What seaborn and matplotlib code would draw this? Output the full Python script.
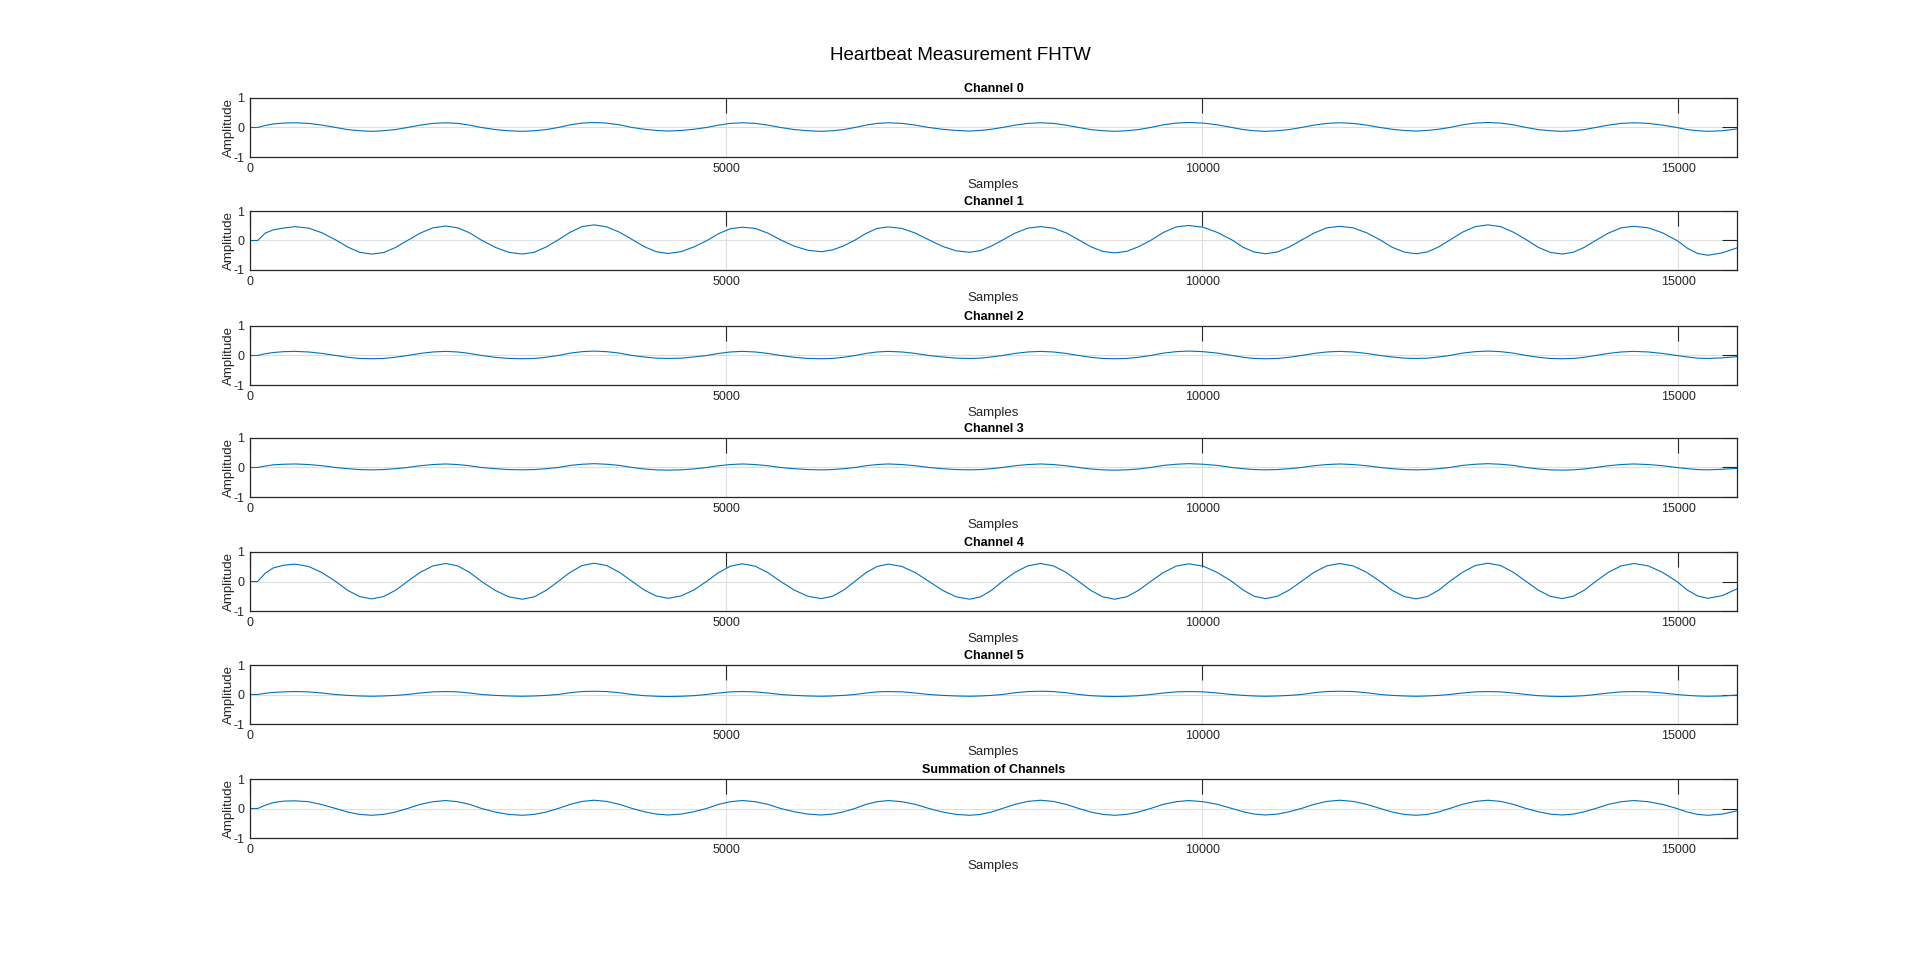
import matplotlib
matplotlib.use("Agg")
import matplotlib.pyplot as plt
import pandas as pd
import seaborn as sns

# ---------------- data ----------------
samples = [0, 80, 160, 244, 350,
           472, 615, 757, 900, 1025, 1151, 1276, 1402, 1527, 1653, 1787, 1921,
           2055, 2181, 2306, 2432, 2574, 2717, 2859, 2985, 3110, 3236, 3362, 3487,
           3613, 3747, 3881, 4015, 4141, 4266, 4392, 4526, 4660, 4794, 4920, 5045,
           5171, 5305, 5439, 5573, 5715, 5858, 6000, 6117, 6235, 6352, 6469, 6586,
           6703, 6846, 6988, 7131, 7273, 7416, 7558, 7672, 7786, 7900, 8034, 8168,
           8302, 8436, 8570, 8704, 8829, 8955, 9080, 9206, 9331, 9457, 9591, 9725,
           9859, 10010, 10161, 10312, 10429, 10546, 10663, 10789, 10914, 11040, 11174, 11308,
           11442, 11584, 11727, 11869, 11995, 12120, 12246, 12363, 12481, 12598, 12732, 12866,
           13000, 13134, 13268, 13402, 13528, 13653, 13779, 13896, 14014, 14131, 14265, 14399,
           14533, 14684, 14834, 14985, 15094, 15202, 15311, 15460, 15616]

channel_0 = [0.00, 0.00, 0.07, 0.12, 0.15,
             0.16, 0.14, 0.08, 0.00,
             -0.07, -0.11, -0.13, -0.11, -0.07, 0.00,
             0.08, 0.14, 0.16, 0.14, 0.08, 0.00,
             -0.07, -0.11, -0.13, -0.11, -0.07, 0.00,
             0.09, 0.15, 0.17, 0.15, 0.09, 0.00,
             -0.06, -0.10, -0.12, -0.10, -0.06, 0.00,
             0.08, 0.14, 0.16, 0.14, 0.08, 0.00,
             -0.07, -0.11, -0.13, -0.11, -0.07, 0.00,
             0.08, 0.14, 0.16, 0.14, 0.08, 0.00,
             -0.06, -0.10, -0.12, -0.10, -0.06, 0.00,
             0.08, 0.14, 0.16, 0.14, 0.08, 0.00,
             -0.07, -0.11, -0.13, -0.11, -0.07, 0.00,
             0.09, 0.15, 0.17, 0.15, 0.09, 0.00,
             -0.07, -0.11, -0.13, -0.11, -0.07, 0.00,
             0.08, 0.14, 0.16, 0.14, 0.08, 0.00,
             -0.06, -0.10, -0.12, -0.10, -0.06, 0.00,
             0.09, 0.15, 0.17, 0.15, 0.09, 0.00,
             -0.07, -0.11, -0.13, -0.11, -0.07, 0.00,
             0.08, 0.14, 0.16, 0.14, 0.08, 0.00,
             -0.07, -0.11, -0.13,
             -0.11, -0.05]

channel_1 = [0.00, 0.00, 0.25, 0.36, 0.42,
             0.47, 0.42, 0.26, 0.02,
             -0.22, -0.40, -0.46, -0.41, -0.24, 0.00,
             0.25, 0.43, 0.49, 0.43, 0.26, 0.01,
             -0.23, -0.40, -0.46, -0.40, -0.22, 0.02,
             0.28, 0.47, 0.53, 0.46, 0.28, 0.03,
             -0.21, -0.38, -0.44, -0.38, -0.22, -0.01,
             0.23, 0.40, 0.45, 0.41, 0.25, 0.02,
             -0.19, -0.33, -0.38, -0.32, -0.18, 0.01,
             0.24, 0.41, 0.46, 0.41, 0.25, 0.02,
             -0.20, -0.35, -0.40, -0.34, -0.19, 0.01,
             0.25, 0.42, 0.47, 0.42, 0.26, 0.02,
             -0.21, -0.37, -0.42, -0.37, -0.21, 0.00,
             0.27, 0.46, 0.51, 0.45, 0.27, 0.02,
             -0.23, -0.39, -0.45, -0.39, -0.22, 0.01,
             0.25, 0.43, 0.48, 0.43, 0.26, 0.02,
             -0.23, -0.39, -0.45, -0.39, -0.22, 0.01,
             0.28, 0.47, 0.53, 0.47, 0.28, 0.03,
             -0.23, -0.40, -0.46, -0.40, -0.23, 0.00,
             0.25, 0.43, 0.48, 0.43, 0.26, 0.00,
             -0.26, -0.44, -0.50,
             -0.42, -0.25]

channel_2 = [0.00, 0.00, 0.06, 0.10, 0.13,
             0.14, 0.12, 0.07, 0.00,
             -0.06, -0.10, -0.11, -0.10, -0.06, 0.00,
             0.07, 0.12, 0.14, 0.12, 0.07, 0.00,
             -0.06, -0.10, -0.11, -0.10, -0.06, 0.00,
             0.08, 0.13, 0.15, 0.13, 0.08, 0.00,
             -0.05, -0.09, -0.10, -0.09, -0.05, 0.00,
             0.07, 0.12, 0.14, 0.12, 0.07, 0.00,
             -0.06, -0.10, -0.11, -0.10, -0.06, 0.00,
             0.07, 0.12, 0.14, 0.12, 0.07, 0.00,
             -0.05, -0.09, -0.10, -0.09, -0.05, 0.00,
             0.07, 0.12, 0.14, 0.12, 0.07, 0.00,
             -0.06, -0.10, -0.11, -0.10, -0.06, 0.00,
             0.08, 0.13, 0.15, 0.13, 0.08, 0.00,
             -0.06, -0.10, -0.11, -0.10, -0.06, 0.00,
             0.07, 0.12, 0.14, 0.12, 0.07, 0.00,
             -0.05, -0.09, -0.10, -0.09, -0.05, 0.00,
             0.08, 0.13, 0.15, 0.13, 0.08, 0.00,
             -0.06, -0.10, -0.11, -0.10, -0.06, 0.00,
             0.07, 0.12, 0.14, 0.12, 0.07, 0.00,
             -0.05, -0.09, -0.10,
             -0.08, -0.04]

channel_3 = [0.00, 0.00, 0.05, 0.09, 0.11,
             0.12, 0.10, 0.06, 0.00,
             -0.04, -0.07, -0.08, -0.07, -0.04, 0.00,
             0.06, 0.10, 0.12, 0.10, 0.06, 0.00,
             -0.04, -0.07, -0.08, -0.07, -0.04, 0.00,
             0.07, 0.11, 0.13, 0.11, 0.07, 0.00,
             -0.05, -0.08, -0.09, -0.08, -0.05, 0.00,
             0.06, 0.10, 0.12, 0.10, 0.06, 0.00,
             -0.04, -0.07, -0.08, -0.07, -0.04, 0.00,
             0.06, 0.10, 0.12, 0.10, 0.06, 0.00,
             -0.04, -0.07, -0.08, -0.07, -0.04, 0.00,
             0.06, 0.10, 0.12, 0.10, 0.06, 0.00,
             -0.05, -0.08, -0.09, -0.08, -0.05, 0.00,
             0.07, 0.11, 0.13, 0.11, 0.07, 0.00,
             -0.04, -0.07, -0.08, -0.07, -0.04, 0.00,
             0.06, 0.10, 0.12, 0.10, 0.06, 0.00,
             -0.04, -0.07, -0.08, -0.07, -0.04, 0.00,
             0.07, 0.11, 0.13, 0.11, 0.07, 0.00,
             -0.05, -0.08, -0.09, -0.08, -0.05, 0.00,
             0.06, 0.10, 0.12, 0.10, 0.06, 0.00,
             -0.04, -0.07, -0.08,
             -0.06, -0.03]

channel_4 = [0.00, 0.00, 0.28, 0.46, 0.55,
             0.59, 0.51, 0.30, 0.00,
             -0.30, -0.51, -0.59, -0.51, -0.30, 0.00,
             0.31, 0.53, 0.61, 0.53, 0.31, 0.00,
             -0.30, -0.52, -0.60, -0.52, -0.30, 0.00,
             0.31, 0.54, 0.62, 0.54, 0.31, 0.00,
             -0.29, -0.49, -0.57, -0.49, -0.29, 0.00,
             0.30, 0.52, 0.60, 0.52, 0.30, 0.00,
             -0.29, -0.50, -0.58, -0.50, -0.29, 0.00,
             0.30, 0.51, 0.59, 0.51, 0.30, 0.00,
             -0.30, -0.52, -0.60, -0.52, -0.30, 0.00,
             0.31, 0.53, 0.61, 0.53, 0.31, 0.00,
             -0.30, -0.52, -0.60, -0.52, -0.30, 0.00,
             0.30, 0.52, 0.60, 0.52, 0.30, 0.00,
             -0.29, -0.50, -0.58, -0.50, -0.29, 0.00,
             0.31, 0.53, 0.61, 0.53, 0.31, 0.00,
             -0.30, -0.51, -0.59, -0.51, -0.30, 0.00,
             0.31, 0.54, 0.62, 0.54, 0.31, 0.00,
             -0.29, -0.50, -0.58, -0.50, -0.29, 0.00,
             0.31, 0.53, 0.61, 0.53, 0.31, 0.00,
             -0.29, -0.49, -0.57,
             -0.48, -0.25]

channel_5 = [0.00, 0.00, 0.04, 0.07, 0.09,
             0.10, 0.09, 0.05, 0.00,
             -0.03, -0.05, -0.06, -0.05, -0.03, 0.00,
             0.05, 0.09, 0.10, 0.09, 0.05, 0.00,
             -0.03, -0.05, -0.06, -0.05, -0.03, 0.00,
             0.06, 0.10, 0.11, 0.10, 0.06, 0.00,
             -0.04, -0.06, -0.07, -0.06, -0.04, 0.00,
             0.05, 0.09, 0.10, 0.09, 0.05, 0.00,
             -0.03, -0.05, -0.06, -0.05, -0.03, 0.00,
             0.05, 0.09, 0.10, 0.09, 0.05, 0.00,
             -0.03, -0.05, -0.06, -0.05, -0.03, 0.00,
             0.06, 0.10, 0.11, 0.10, 0.06, 0.00,
             -0.04, -0.06, -0.07, -0.06, -0.04, 0.00,
             0.05, 0.09, 0.10, 0.09, 0.05, 0.00,
             -0.03, -0.05, -0.06, -0.05, -0.03, 0.00,
             0.06, 0.10, 0.11, 0.10, 0.06, 0.00,
             -0.03, -0.05, -0.06, -0.05, -0.03, 0.00,
             0.05, 0.09, 0.10, 0.09, 0.05, 0.00,
             -0.04, -0.06, -0.07, -0.06, -0.04, 0.00,
             0.05, 0.09, 0.10, 0.09, 0.05, 0.00,
             -0.03, -0.05, -0.06,
             -0.05, -0.02]

channel_sum = [0.00, 0.00, 0.11, 0.20, 0.25,
               0.26, 0.23, 0.13, 0.00,
               -0.12, -0.20, -0.23, -0.20, -0.12, 0.00,
               0.14, 0.23, 0.27, 0.23, 0.14, 0.00,
               -0.12, -0.20, -0.23, -0.20, -0.12, 0.00,
               0.14, 0.24, 0.28, 0.24, 0.14, 0.00,
               -0.11, -0.19, -0.22, -0.19, -0.11, 0.00,
               0.14, 0.23, 0.27, 0.23, 0.14, 0.00,
               -0.11, -0.19, -0.22, -0.19, -0.11, 0.00,
               0.14, 0.23, 0.27, 0.23, 0.14, 0.00,
               -0.12, -0.20, -0.23, -0.20, -0.12, 0.00,
               0.14, 0.24, 0.28, 0.24, 0.14, 0.00,
               -0.12, -0.20, -0.23, -0.20, -0.12, 0.00,
               0.14, 0.23, 0.27, 0.23, 0.14, 0.00,
               -0.11, -0.19, -0.22, -0.19, -0.11, 0.00,
               0.14, 0.24, 0.28, 0.24, 0.14, 0.00,
               -0.12, -0.20, -0.23, -0.20, -0.12, 0.00,
               0.14, 0.24, 0.28, 0.24, 0.14, 0.00,
               -0.11, -0.19, -0.22, -0.19, -0.11, 0.00,
               0.14, 0.23, 0.27, 0.23, 0.14, 0.00,
               -0.12, -0.20, -0.23,
               -0.19, -0.08]

panel_titles = ["Channel 0", "Channel 1", "Channel 2", "Channel 3",
                "Channel 4", "Channel 5", "Summation of Channels"]
series = [channel_0, channel_1, channel_2, channel_3, channel_4, channel_5, channel_sum]
x_ticks = [0, 5000, 10000, 15000]
y_ticks = [-1, 0, 1]
x_max = 15616
fig_title = "Heartbeat Measurement FHTW"

# ---------------- style ----------------
sns.set_style("white")
plt.rcParams['font.family'] = ['Liberation Sans', 'DejaVu Sans']
plt.rcParams['axes.unicode_minus'] = False

W, H = 1920, 955
fig = plt.figure(figsize=(W / 100, H / 100), dpi=100)
fig.patch.set_facecolor("white")

dark = "#262626"
line_col = "#0072BD"
left_px, right_px = 250, 1737
tops_px = [98, 211, 326, 438, 552, 665, 779]
height_px = 59

for top, title, vals in zip(tops_px, panel_titles, series):
    ax = fig.add_axes([left_px / W, 1 - (top + height_px) / H,
                       (right_px - left_px) / W, height_px / H])
    df = pd.DataFrame({"Samples": samples, "Amplitude": vals})
    sns.lineplot(data=df, x="Samples", y="Amplitude", ax=ax,
                 color=line_col, linewidth=0.8)
    ax.set_xlim(0, x_max)
    ax.set_ylim(-1, 1)
    ax.set_xticks(x_ticks)
    ax.set_yticks(y_ticks)
    ax.grid(True, color="#dedede", linewidth=0.8)
    ax.set_axisbelow(True)
    ax.tick_params(direction="in", length=10.5, width=0.8, top=True, right=True,
                   colors=dark, labelsize=9, pad=4)
    for sp in ax.spines.values():
        sp.set_color(dark)
        sp.set_linewidth(0.9)
        sp.set_visible(True)
    ax.set_title(title, fontsize=9, fontweight="bold", color="black", pad=4)
    ax.set_xlabel("Samples", fontsize=9.5, color=dark, labelpad=3)
    ax.set_ylabel("Amplitude", fontsize=9.5, color=dark, labelpad=-1)

fig.text(0.5, 1 - 55 / H, fig_title, ha="center", va="center",
         fontsize=13.5, color="black")

fig.savefig("out.png", dpi=100, facecolor="white")
